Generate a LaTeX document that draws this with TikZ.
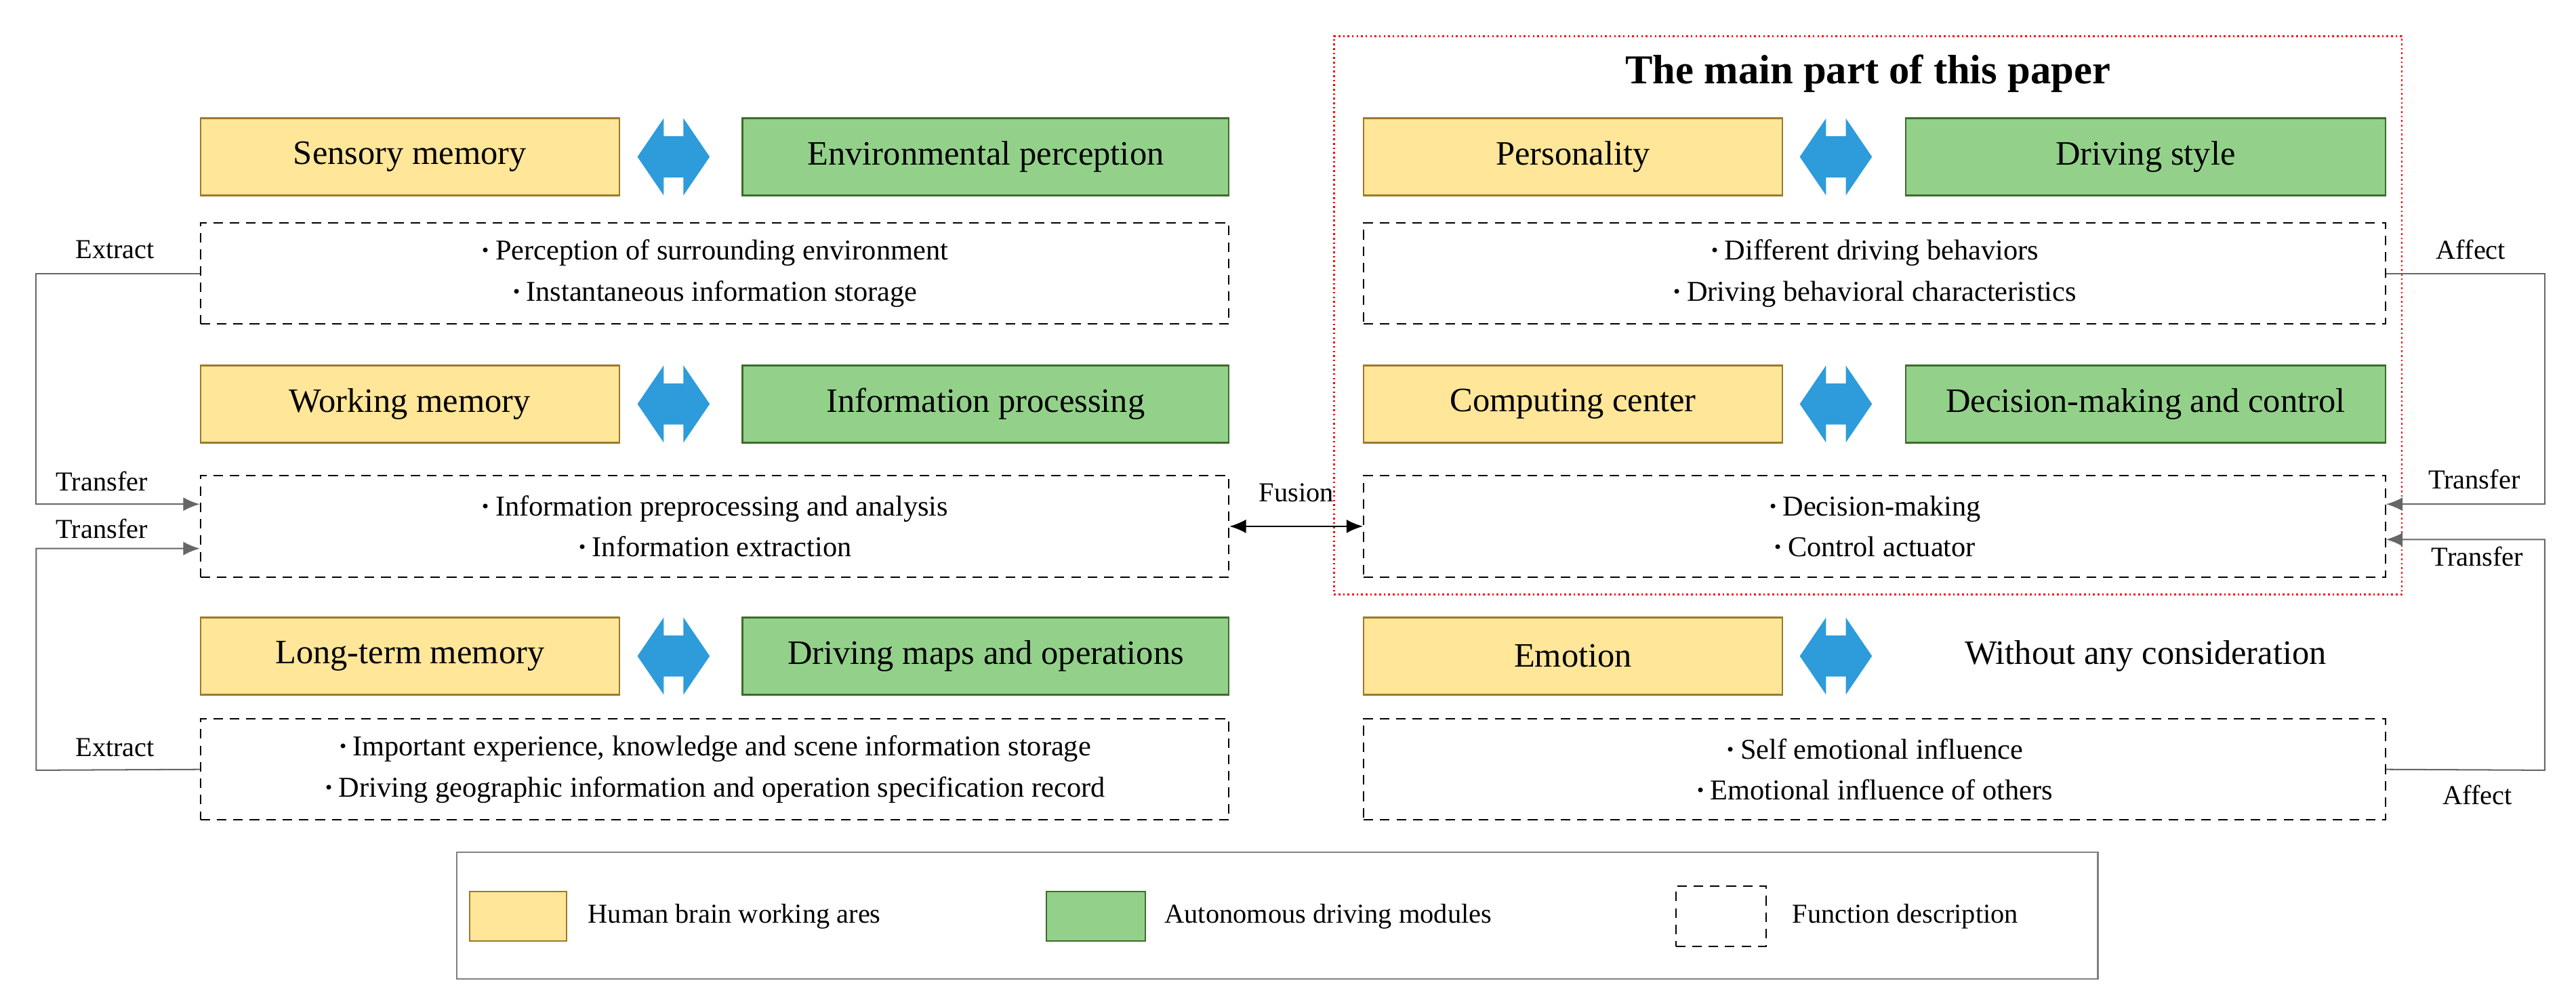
\documentclass[tikz,border=0pt]{standalone}
\usepackage{fontspec}
\setmainfont{Liberation Serif}
\usetikzlibrary{calc,arrows.meta}
\definecolor{ylw}{HTML}{FFE699}
\definecolor{ylwb}{HTML}{9C7A2A}
\definecolor{grn}{HTML}{93D18A}
\definecolor{grnb}{HTML}{3F6B2E}
\definecolor{blu}{HTML}{2E9BDB}
\tikzset{
 yb/.style={draw=ylwb,fill=ylw,line width=1.2pt,minimum width=306pt,minimum height=56.4pt,font=\fontsize{25}{30}\selectfont},
 gb/.style={draw=grnb,fill=grn,line width=1.2pt,minimum height=56.4pt,font=\fontsize{25}{30}\selectfont},
 db/.style={draw,dashed,dash pattern=on 7pt off 5pt,line width=1pt,minimum height=74pt,align=center,font=\fontsize{21}{30}\selectfont},
 ba/.style={inner sep=0pt,minimum width=53pt,minimum height=56pt},
 con/.style={draw=gray!80!black,line width=1pt},
 arr/.style={con,-{Latex[length=12pt,width=10pt]},shorten >=0pt},
 lab/.style={font=\fontsize{20}{22}\selectfont},
}
\newcommand{\bul}{\textbf{·}\,}
\newcommand{\barrow}[1]{\fill[blu] ($(#1)+(-22,0)$) -- ++(16,-23.5) -- ++(0,11) -- ++(12,0) -- ++(0,-11) -- ++(16,23.5) -- ++(-16,23.5) -- ++(0,-11) -- ++(-12,0) -- ++(0,11) -- cycle;}
\begin{document}
\begin{tikzpicture}[x=1.2pt,y=-1.2pt]
\useasboundingbox (0,0) rectangle (1568,611);
% left
\node[yb] (y1) at (249.5,95.5) {Sensory memory};
\node[ba] (a1) at (410,95.5) {}; \barrow{a1}
\node[gb,minimum width=355.2pt] (g1) at (600,95.5) {Environmental perception};
\node[db,minimum width=751.2pt] (d1) at (435,166.5) {\bul Perception of surrounding environment\\\bul Instantaneous information storage};
\node[yb] (y2) at (249.5,246) {Working memory};
\node[ba] (a2) at (410,246) {}; \barrow{a2}
\node[gb,minimum width=355.2pt] (g2) at (600,246) {Information processing};
\node[db,minimum width=751.2pt] (d2) at (435,320.5) {\bul Information preprocessing and analysis\\\bul Information extraction};
\node[yb] (y3) at (249.5,399.5) {Long-term memory};
\node[ba] (a3) at (410,399.5) {}; \barrow{a3}
\node[gb,minimum width=355.2pt] (g3) at (600,399.5) {Driving maps and operations};
\node[db,minimum width=751.2pt] (d3) at (435,468.5) {\bul Important experience, knowledge and scene information storage\\\bul Driving geographic information and operation specification record};
% right
\node[draw=red,dotted,line width=1.3pt,minimum width=780pt,minimum height=408pt] (main) at (1137,192) {};
\node[font=\fontsize{30}{34}\selectfont\bfseries] (title) at (1137,45) {The main part of this paper};
\node[yb] (y4) at (957.5,95.5) {Personality};
\node[ba] (a4) at (1117.5,95.5) {}; \barrow{a4}
\node[gb,minimum width=350.4pt] (g4) at (1306,95.5) {Driving style};
\node[db,minimum width=746.4pt] (d4) at (1141,166.5) {\bul Different driving behaviors\\\bul Driving behavioral characteristics};
\node[yb] (y5) at (957.5,246) {Computing center};
\node[ba] (a5) at (1117.5,246) {}; \barrow{a5}
\node[gb,minimum width=350.4pt] (g5) at (1306,246) {Decision-making and control};
\node[db,minimum width=746.4pt] (d5) at (1141,320.5) {\bul Decision-making\\\bul Control actuator};
\node[yb] (y6) at (957.5,399.5) {Emotion};
\node[ba] (a6) at (1117.5,399.5) {}; \barrow{a6}
\node[font=\fontsize{25}{30}\selectfont] (w6) at (1306,399.5) {Without any consideration};
\node[db,minimum width=746.4pt] (d6) at (1141,468.5) {\bul Self emotional influence\\\bul Emotional influence of others};
% left connectors
\coordinate (l1) at (22,166.5);
\coordinate (l2) at (22,469);
\draw[arr] (d1.west) -- (l1) |- ($(d2.west)+(0,-13.5)$);
\draw[arr] (d3.west) -- (l2) |- ($(d2.west)+(0,13.5)$);
\node[lab] (ex1) at (70,152) {Extract};
\node[lab] (tr1) at (62,293) {Transfer};
\node[lab] (tr2) at (62,322) {Transfer};
\node[lab] (ex2) at (70,455) {Extract};
% fusion
\draw[con,{Latex[length=12pt,width=10pt]}-{Latex[length=12pt,width=10pt]},draw=black] (d2.east) -- (d5.west);
\node[lab] (fu) at (789,300) {Fusion};
% right connectors
\coordinate (r1) at (1549,166.5);
\coordinate (r2) at (1549,469);
\draw[arr] (d4.east) -- (r1) |- ($(d5.east)+(0,-13.5)$);
\draw[arr] (d6.east) -- (r2) |- ($(d5.east)+(0,8)$);
\node[lab] (af1) at (1504,152) {Affect};
\node[lab] (tr3) at (1506,292) {Transfer};
\node[lab] (tr4) at (1508,339) {Transfer};
\node[lab] (af2) at (1508,484) {Affect};
% legend
\node[draw=gray,line width=1.2pt,minimum width=1198.8pt,minimum height=92.4pt] (leg) at (777.5,557.5) {};
\node[fill=ylw,draw=ylwb,line width=1pt,minimum width=70.8pt,minimum height=36pt] (ls1) at (315.5,558) {};
\node[lab,anchor=west] (lt1) at (355,558) {Human brain working ares};
\node[fill=grn,draw=grnb,line width=1pt,minimum width=72pt,minimum height=36pt] (ls2) at (667,558) {};
\node[lab,anchor=west] (lt2) at (706,558) {Autonomous driving modules};
\node[draw,dashed,dash pattern=on 7pt off 5pt,line width=1pt,minimum width=66pt,minimum height=44pt] (ls3) at (1047.5,558) {};
\node[lab,anchor=west] (lt3) at (1088,558) {Function description};
\end{tikzpicture}
\end{document}
